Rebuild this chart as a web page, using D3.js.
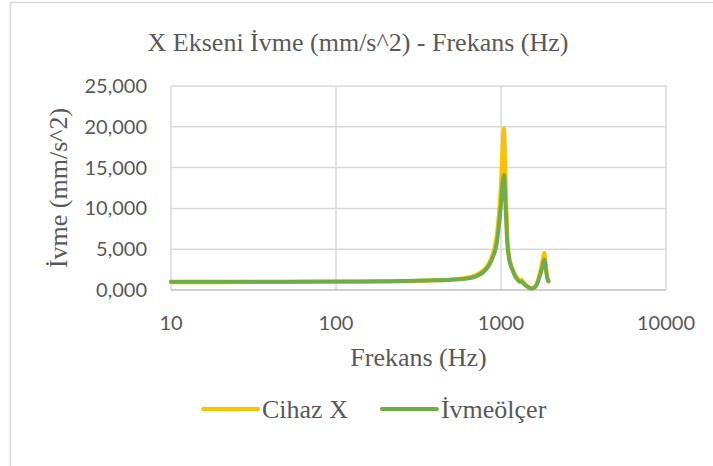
<!DOCTYPE html>
<html>
<head>
<meta charset="utf-8">
<script src="https://cdn.jsdelivr.net/npm/d3@7"></script>
<style>
  html, body { margin: 0; padding: 0; background: #fff; }
  svg { display: block; }
</style>
</head>
<body>
<div id="chart"></div>
<script>
// ── veri ──
const frekans = [10, 20, 50, 100, 200, 300, 400, 500, 600, 700, 800, 850, 900, 940, 970, 1000, 1020, 1042, 1065, 1090,
  1120, 1160, 1210, 1260, 1300, 1330, 1370, 1420, 1480, 1530, 1580, 1630, 1680, 1730, 1780, 1830, 1870, 1900, 1940];
const cihazX = [0.95, 0.96, 0.98, 1.0, 1.05, 1.1, 1.18, 1.29, 1.45, 1.8, 2.6, 3.35, 4.7, 6.5, 9.2, 13.0, 17.0, 19.8, 14.0, 7.0,
  4.2, 2.9, 2.0, 1.45, 1.2, 1.25, 0.95, 0.6, 0.33, 0.2, 0.28, 0.55, 1.25, 2.3, 3.5, 4.57, 3.0, 1.8, 1.1];
const ivmeolcer = [1.0, 1.0, 1.02, 1.04, 1.08, 1.12, 1.18, 1.26, 1.38, 1.65, 2.4, 3.1, 4.2, 5.6, 7.8, 10.5, 12.8, 14.1, 10.5, 6.0,
  3.8, 2.7, 1.8, 1.25, 1.0, 1.05, 0.8, 0.5, 0.28, 0.18, 0.25, 0.5, 1.1, 1.9, 2.8, 3.7, 2.6, 1.6, 1.05];
const xTicks = [10, 100, 1000, 10000];
const yTicks = [0, 5, 10, 15, 20, 25];
const seriler = [
  { ad: "Cihaz X", renk: "#FFC000", degerler: cihazX },
  { ad: "İvmeölçer", renk: "#70AD47", degerler: ivmeolcer }
];

const width = 713, height = 466;
const serif = "'Liberation Serif', 'Times New Roman', serif";
const sans = "Lato, 'Liberation Sans', sans-serif";
const textColor = "#595959";

const svg = d3.select("#chart").append("svg")
  .attr("width", width).attr("height", height)
  .attr("viewBox", [0, 0, width, height]);

// dis cerceve
svg.append("rect")
  .attr("x", 10.5).attr("y", 2.5).attr("width", width + 20).attr("height", height + 20)
  .attr("fill", "#fff").attr("stroke", "#d9d9d9").attr("stroke-width", 1.5);

const x = d3.scaleLog().domain([10, 10000]).range([171, 666]);
const y = d3.scaleLinear().domain([0, 25]).range([290, 86]);
const trFormat = d3.formatLocale({ decimal: ",", thousands: ".", grouping: [3], currency: ["", "₺"] }).format(",.3f");

// grid
svg.append("g").attr("stroke", "#d9d9d9").attr("stroke-width", 1.5)
  .selectAll("line").data(yTicks.slice(1)).join("line")
  .attr("x1", x(10)).attr("x2", x(10000))
  .attr("y1", d => y(d)).attr("y2", d => y(d));
svg.append("g").attr("stroke", "#d9d9d9").attr("stroke-width", 1.5)
  .selectAll("line").data(xTicks).join("line")
  .attr("x1", d => x(d)).attr("x2", d => x(d))
  .attr("y1", y(25)).attr("y2", y(0));
svg.append("line")
  .attr("x1", x(10)).attr("x2", x(10000)).attr("y1", y(0)).attr("y2", y(0))
  .attr("stroke", "#bfbfbf").attr("stroke-width", 1.5);

// eksen etiketleri
svg.append("g").selectAll("text").data(yTicks).join("text")
  .attr("x", 147).attr("y", d => y(d)).attr("dy", "0.35em")
  .attr("text-anchor", "end").attr("fill", textColor)
  .attr("font-family", sans).attr("font-size", "20px")
  .text(d => trFormat(d));
svg.append("g").selectAll("text").data(xTicks).join("text")
  .attr("x", d => x(d)).attr("y", 330)
  .attr("text-anchor", "middle").attr("fill", textColor)
  .attr("font-family", sans).attr("font-size", "20px")
  .text(d => d);

// cizgiler
const line = d3.line().curve(d3.curveMonotoneX);
seriler.forEach(s => {
  svg.append("path")
    .attr("fill", "none").attr("stroke", s.renk).attr("stroke-width", 4)
    .attr("stroke-linejoin", "round").attr("stroke-linecap", "round")
    .attr("d", line(frekans.map((f, i) => [x(f), y(s.degerler[i])])));
});

// basliklar
svg.append("text")
  .attr("x", 358).attr("y", 51).attr("text-anchor", "middle")
  .attr("fill", textColor).attr("font-family", serif).attr("font-size", "26px")
  .text("X Ekseni İvme (mm/s^2) - Frekans (Hz)");
svg.append("text")
  .attr("x", 418.5).attr("y", 366).attr("text-anchor", "middle")
  .attr("fill", textColor).attr("font-family", serif).attr("font-size", "26px")
  .text("Frekans (Hz)");
svg.append("text")
  .attr("transform", `translate(67,${(y(0) + y(25)) / 2}) rotate(-90)`)
  .attr("text-anchor", "middle")
  .attr("fill", textColor).attr("font-family", serif).attr("font-size", "26px")
  .text("İvme (mm/s^2)");

// lejant
let lx = 203;
const ly = 409;
seriler.forEach(s => {
  svg.append("line")
    .attr("x1", lx).attr("x2", lx + 55).attr("y1", ly).attr("y2", ly)
    .attr("stroke", s.renk).attr("stroke-width", 4).attr("stroke-linecap", "round");
  const t = svg.append("text")
    .attr("x", lx + 59).attr("y", ly).attr("dy", "0.35em")
    .attr("fill", textColor).attr("font-family", serif).attr("font-size", "26px")
    .text(s.ad);
  lx += 59 + t.node().getComputedTextLength() + 34;
});
</script>
</body>
</html>
